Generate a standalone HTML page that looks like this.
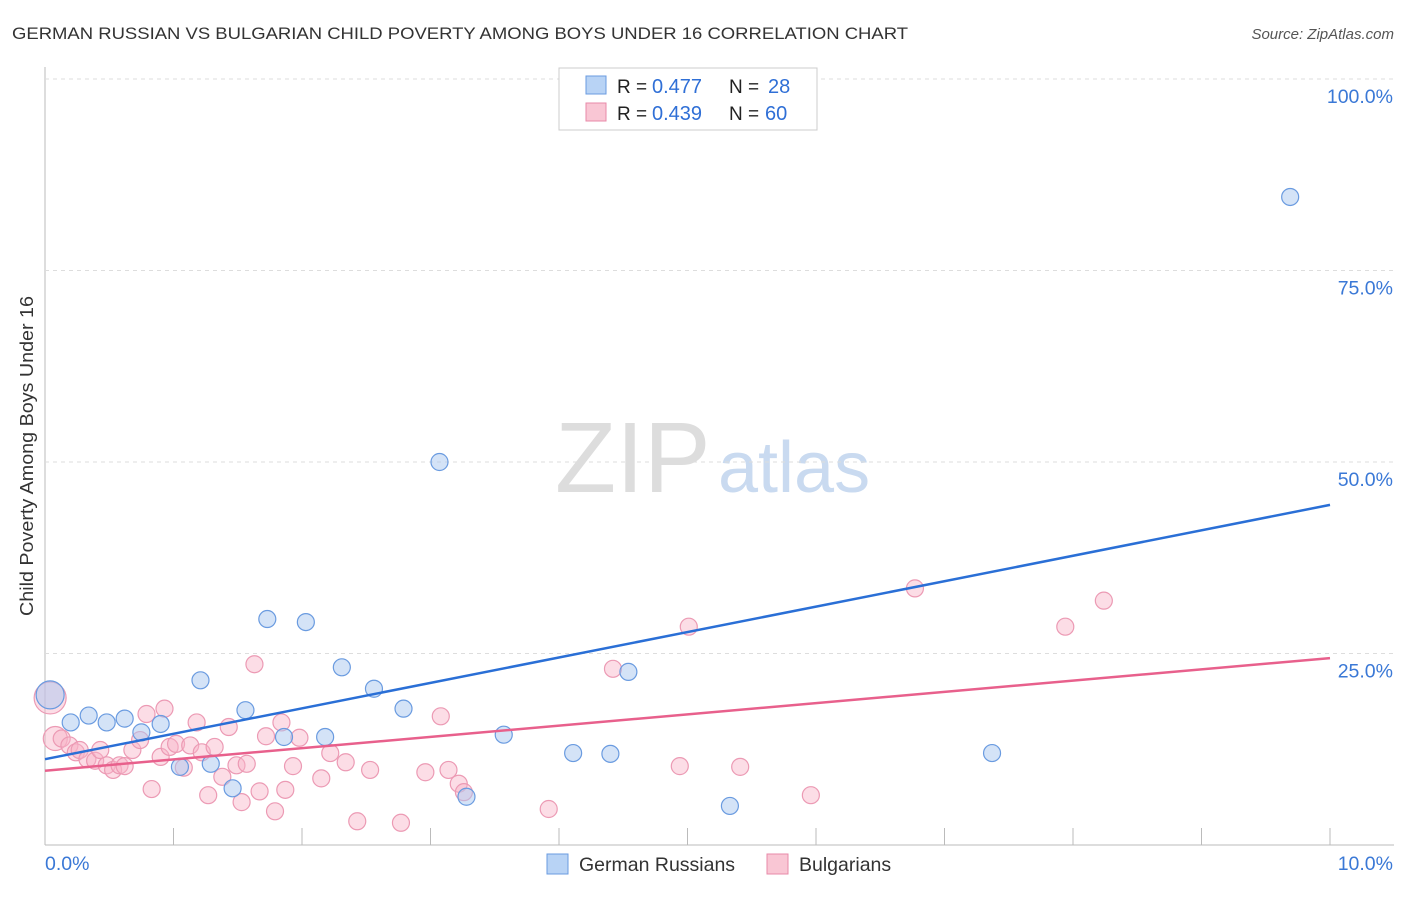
<!DOCTYPE html>
<html><head><meta charset="utf-8"><style>
body{margin:0;background:#fff;font-family:"Liberation Sans",sans-serif;}
svg text{font-family:"Liberation Sans",sans-serif;}
</style></head><body>
<svg id="chart" width="1406" height="892">
<text x="12" y="39" font-size="17" fill="#333" textLength="896" lengthAdjust="spacingAndGlyphs">GERMAN RUSSIAN VS BULGARIAN CHILD POVERTY AMONG BOYS UNDER 16 CORRELATION CHART</text>
<text x="1394" y="39" font-size="15" fill="#555" font-style="italic" text-anchor="end">Source: ZipAtlas.com</text>
<text x="33" y="456" font-size="18" fill="#333" text-anchor="middle" textLength="320" lengthAdjust="spacingAndGlyphs" transform="rotate(-90 33 456)">Child Poverty Among Boys Under 16</text>
<text x="555" y="492" font-size="100" fill="#ddd" font-family="Liberation Serif">ZIP</text>
<text x="718" y="492" font-size="72" fill="#c9daf0">atlas</text>
<g id="grid"></g><g id="pts"></g><g id="lines"></g>
<g>
<rect x="559" y="68" width="258" height="62" fill="#fff" stroke="#ccc"/>
<rect x="586" y="76" width="20" height="18" fill="#b8d3f5" stroke="#6a9be0"/>
<rect x="586" y="103" width="20" height="18" fill="#f9c6d4" stroke="#e88aa8"/>
<text x="617" y="93" font-size="19" fill="#222">R =</text>
<text x="652" y="93" font-size="20" fill="#2f6fd6">0.477</text>
<text x="729" y="93" font-size="19" fill="#222">N =</text>
<text x="768" y="93" font-size="20" fill="#2f6fd6">28</text>
<text x="617" y="120" font-size="19" fill="#222">R =</text>
<text x="652" y="120" font-size="20" fill="#2f6fd6">0.439</text>
<text x="729" y="120" font-size="19" fill="#222">N =</text>
<text x="765" y="120" font-size="20" fill="#2f6fd6">60</text>
</g>
<g>
<rect x="547" y="854" width="21" height="20" fill="#b8d3f5" stroke="#6a9be0"/>
<text x="579" y="871" font-size="19.5" fill="#333">German Russians</text>
<rect x="767" y="854" width="21" height="20" fill="#f9c6d4" stroke="#e88aa8"/>
<text x="799" y="871" font-size="19.5" fill="#333">Bulgarians</text>
</g>
</svg>
<script>
const yTicks=[25,50,75,100];
const yTickLabels=["25.0%","50.0%","75.0%","100.0%"];
const xTickLabels=["0.0%","10.0%"];
const blueX=[0.04,0.2,0.34,0.48,0.62,0.75,0.9,1.05,1.21,1.29,1.46,1.56,1.73,1.86,2.03,2.18,2.31,2.56,2.79,3.07,3.28,3.57,4.11,4.4,4.54,5.33,7.37,9.69];
const blueY=[19.6,16.0,16.9,16.0,16.5,14.7,15.8,10.2,21.5,10.6,7.4,17.6,29.5,14.1,29.1,14.1,23.2,20.4,17.8,50.0,6.3,14.4,12.0,11.9,22.6,5.1,12.0,84.6];
const pinkX=[0.04,0.08,0.13,0.19,0.24,0.27,0.33,0.39,0.43,0.48,0.53,0.58,0.62,0.68,0.74,0.79,0.83,0.9,0.93,0.97,1.02,1.08,1.13,1.18,1.22,1.27,1.32,1.38,1.43,1.49,1.53,1.57,1.63,1.67,1.72,1.79,1.84,1.87,1.93,1.98,2.15,2.22,2.34,2.43,2.53,2.77,2.96,3.08,3.14,3.22,3.26,3.92,4.42,4.94,5.01,5.41,5.96,6.77,7.94,8.24];
const pinkY=[19.2,13.9,13.9,13.0,12.1,12.4,11.2,11.0,12.4,10.4,9.8,10.4,10.3,12.4,13.7,17.1,7.3,11.5,17.8,12.8,13.2,10.1,13.0,16.0,12.1,6.5,12.8,8.9,15.4,10.4,5.6,10.6,23.6,7.0,14.2,4.4,16.0,7.2,10.3,14.0,8.7,12.0,10.8,3.1,9.8,2.9,9.5,16.8,9.8,8.0,6.9,4.7,23.0,10.3,28.5,10.2,6.5,33.5,28.5,31.9];
const blueLine=[11.2,44.4];
const pinkLine=[9.7,24.4];
const NS="http://www.w3.org/2000/svg";
const X0=45,X1=1330,Y0=845,Y100=79;
const sx=v=>X0+(X1-X0)*v/10;
const sy=v=>Y0-(Y0-Y100)*v/100;
function mk(t,a,p){const e=document.createElementNS(NS,t);for(const k in a)e.setAttribute(k,a[k]);p.appendChild(e);return e;}
const grid=document.getElementById('grid');
mk('line',{x1:45,y1:67,x2:45,y2:845,stroke:'#bbb'},grid);
mk('line',{x1:45,y1:845,x2:1394,y2:845,stroke:'#bbb'},grid);
yTicks.forEach((t,i)=>{
 const g=mk('line',{x1:45,y1:sy(t),x2:1394,y2:sy(t),stroke:'#ddd','stroke-dasharray':'4,4'},grid);
 
 
 const tx=mk('text',{x:1393,y:sy(t)+24,'font-size':19.5,fill:'#3a78d6','text-anchor':'end'},grid);
 tx.textContent=yTickLabels[i];
 
 
});
for(let i=0;i<=10;i++){const l=mk('line',{x1:sx(i),y1:828,x2:sx(i),y2:845,stroke:'#bbb'},grid);
 
 }
const xl0=mk('text',{x:45,y:870,'font-size':19.5,fill:'#3a78d6'},grid);xl0.textContent=xTickLabels[0];


const xl1=mk('text',{x:1393,y:870,'font-size':19.5,fill:'#3a78d6','text-anchor':'end'},grid);xl1.textContent=xTickLabels[1];


const pts=document.getElementById('pts');
pinkX.forEach((x,i)=>{const c=mk('circle',{cx:sx(x),cy:sy(pinkY[i]),r:i===0?16:(i===1?12:8.5),fill:'rgba(248,180,200,0.45)',stroke:'#ec9ab4','stroke-width':1.2},pts);
 
 });
blueX.forEach((x,i)=>{const c=mk('circle',{cx:sx(x),cy:sy(blueY[i]),r:i===0?14:8.5,fill:'rgba(170,200,240,0.5)',stroke:'#6a9be0','stroke-width':1.2},pts);
 
 });
const lines=document.getElementById('lines');
const bl=mk('line',{x1:sx(0),y1:sy(blueLine[0]),x2:sx(10),y2:sy(blueLine[1]),stroke:'#2a6fd6','stroke-width':2.5},lines);


const pl=mk('line',{x1:sx(0),y1:sy(pinkLine[0]),x2:sx(10),y2:sy(pinkLine[1]),stroke:'#e8608c','stroke-width':2.5},lines);


</script>
</body></html>
